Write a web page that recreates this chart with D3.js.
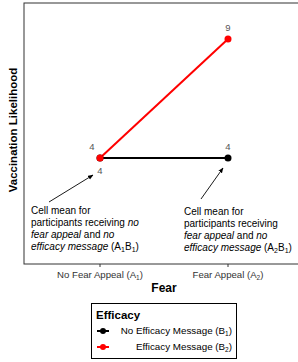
<!DOCTYPE html>
<html lang="en">
<head>
<meta charset="UTF-8">
<title>Fear x Efficacy interaction</title>
<script src="https://d3js.org/d3.v7.min.js"></script>
<style>
  body { margin: 0; background: #fff; }
  text { font-family: "Liberation Sans", Arial, sans-serif; }
</style>
</head>
<body>
<div id="chart"></div>
<script>
// data
var fearLevels = ["A1", "A2"];
var fearLabels = [["No Fear Appeal (A", "1", ")"], ["Fear Appeal (A", "2", ")"]];
var seriesNames = ["B1", "B2"];
var seriesLabels = [["No Efficacy Message (B", "1", ")"], ["Efficacy Message (B", "2", ")"]];
var seriesColors = ["#000000", "#ff0000"];
var noEfficacy = [4, 4];
var efficacy = [4, 9];

var W = 298, H = 362;
var svg = d3.select("#chart").append("svg").attr("width", W).attr("height", H);

var x = d3.scalePoint().domain(fearLevels).range([100, 228]);
var y = d3.scaleLinear().domain([4, 9]).range([158, 39]);
var panel = { left: 24, top: 3, right: 304, bottom: 264 };

// panel border
svg.append("rect")
  .attr("x", panel.left).attr("y", panel.top)
  .attr("width", panel.right - panel.left).attr("height", panel.bottom - panel.top)
  .attr("fill", "none").attr("stroke", "#333").attr("stroke-width", 1);

// x ticks
fearLevels.forEach(function(f, i) {
  svg.append("line").attr("x1", x(f)).attr("x2", x(f))
    .attr("y1", panel.bottom).attr("y2", panel.bottom + 3).attr("stroke", "#333");
  var t = svg.append("text").attr("x", x(f)).attr("y", panel.bottom + 14)
    .attr("text-anchor", "middle").attr("font-size", 9.6).attr("fill", "#333");
  t.append("tspan").text(fearLabels[i][0]);
  t.append("tspan").attr("font-size", 6.5).attr("dy", 2).text(fearLabels[i][1]);
  t.append("tspan").attr("dy", -2).text(fearLabels[i][2]);
});

// axis titles
svg.append("text").attr("x", 164).attr("y", 292)
  .attr("text-anchor", "middle").attr("font-size", 12).attr("font-weight", "bold").text("Fear");
svg.append("text").attr("transform", "translate(17," + 130 + ") rotate(-90)")
  .attr("text-anchor", "middle").attr("font-size", 11.5).attr("font-weight", "bold")
  .text("Vaccination Likelihood");

// lines + points
var series = [noEfficacy, efficacy];
var line = d3.line().x(function(d, i) { return x(fearLevels[i]); }).y(function(d) { return y(d); });
series.forEach(function(vals, s) {
  svg.append("path").datum(vals).attr("d", line)
    .attr("fill", "none").attr("stroke", seriesColors[s]).attr("stroke-width", 2);
});
series.forEach(function(vals, s) {
  svg.selectAll(null).data(vals).enter().append("circle")
    .attr("cx", function(d, i) { return x(fearLevels[i]); })
    .attr("cy", function(d) { return y(d); })
    .attr("r", 3.5).attr("fill", seriesColors[s]);
});

// value labels
var valLabels = [
  { v: noEfficacy[0], i: 0, dx: 0, dy: 16 },
  { v: noEfficacy[1], i: 1, dx: 0, dy: -8 },
  { v: efficacy[0], i: 0, dx: -8, dy: -8 },
  { v: efficacy[1], i: 1, dx: 0, dy: -8 }
];
valLabels.forEach(function(l) {
  svg.append("text").attr("x", x(fearLevels[l.i]) + l.dx).attr("y", y(l.v) + l.dy)
    .attr("text-anchor", "middle").attr("font-size", 9.5).attr("fill", "#555").text(l.v);
});

// annotations
svg.append("defs").append("marker").attr("id", "arr")
  .attr("viewBox", "0 0 10 10").attr("refX", 9).attr("refY", 5)
  .attr("markerWidth", 6).attr("markerHeight", 6).attr("orient", "auto")
  .append("path").attr("d", "M0,1 L10,5 L0,9 Z").attr("fill", "#000");

svg.append("line").attr("x1", 49).attr("y1", 202).attr("x2", 93).attr("y2", 175)
  .attr("stroke", "#000").attr("stroke-width", 0.9).attr("marker-end", "url(#arr)");
svg.append("line").attr("x1", 201).attr("y1", 199).attr("x2", 223).attr("y2", 168)
  .attr("stroke", "#000").attr("stroke-width", 0.9).attr("marker-end", "url(#arr)");

function annotate(x0, y0, cond, sub) {
  var g = svg.append("g").attr("font-size", 10).attr("fill", "#000");
  g.append("text").attr("x", x0).attr("y", y0).text("Cell mean for");
  var t2 = g.append("text").attr("x", x0).attr("y", y0 + 12);
  t2.append("tspan").text("participants receiving ");
  if (cond) t2.append("tspan").attr("font-style", "italic").text("no");
  var t3 = g.append("text").attr("x", x0).attr("y", y0 + 24);
  t3.append("tspan").attr("font-style", "italic").text("fear appeal");
  t3.append("tspan").text(" and ");
  t3.append("tspan").attr("font-style", "italic").text("no");
  var t4 = g.append("text").attr("x", x0).attr("y", y0 + 36);
  t4.append("tspan").attr("font-style", "italic").text("efficacy message");
  t4.append("tspan").text(" (A");
  t4.append("tspan").attr("font-size", 7).attr("dy", 2).text(sub[0]);
  t4.append("tspan").attr("dy", -2).text("B");
  t4.append("tspan").attr("font-size", 7).attr("dy", 2).text(sub[1]);
  t4.append("tspan").attr("dy", -2).text(")");
}
annotate(31, 214, true, ["1", "1"]);
annotate(184, 215, false, ["2", "1"]);

// legend
var lg = svg.append("g");
lg.append("rect").attr("x", 91.5).attr("y", 303.5).attr("width", 145).attr("height", 55)
  .attr("fill", "#fff").attr("stroke", "#000").attr("stroke-width", 1);
lg.append("text").attr("x", 96).attr("y", 319).attr("font-size", 11.5).attr("font-weight", "bold").text("Efficacy");
seriesNames.forEach(function(s, i) {
  var yy = 331 + i * 16;
  lg.append("line").attr("x1", 97).attr("x2", 109).attr("y1", yy).attr("y2", yy)
    .attr("stroke", seriesColors[i]).attr("stroke-width", 2);
  lg.append("circle").attr("cx", 103).attr("cy", yy).attr("r", 3).attr("fill", seriesColors[i]);
  var t = lg.append("text").attr("x", 232).attr("y", yy + 3).attr("text-anchor", "end")
    .attr("font-size", 9.8).attr("fill", "#000");
  t.append("tspan").text(seriesLabels[i][0]);
  t.append("tspan").attr("font-size", 6.5).attr("dy", 2).text(seriesLabels[i][1]);
  t.append("tspan").attr("dy", -2).text(seriesLabels[i][2]);
});
</script>
</body>
</html>
